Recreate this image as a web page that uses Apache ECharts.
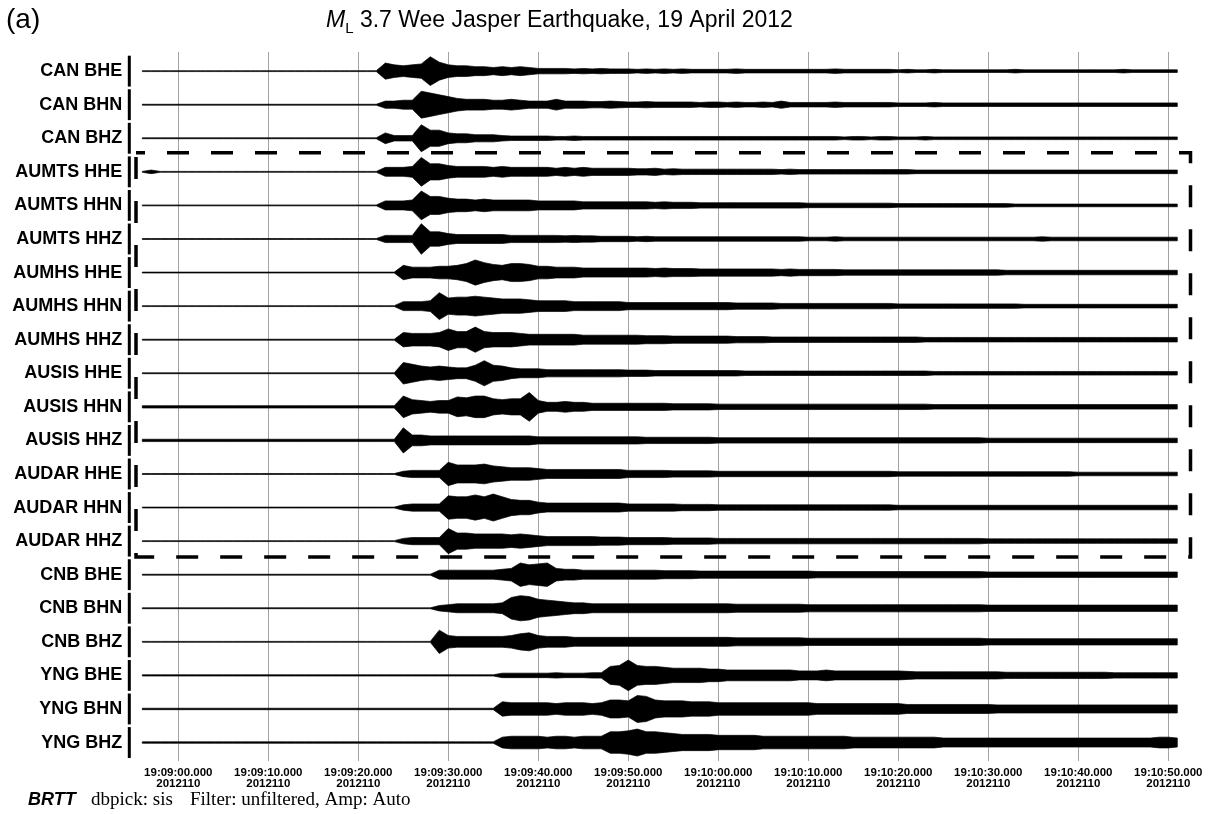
<!DOCTYPE html>
<html>
<head>
<meta charset="utf-8">
<script src="https://cdn.jsdelivr.net/npm/echarts@6/dist/echarts.min.js"></script>
<style>
  html, body { margin: 0; padding: 0; background: #fff; }
  #chart { width: 1210px; height: 814px; }
</style>
</head>
<body>
<div id="chart"></div>
<script>
// station / channel of every trace, top to bottom
const stations = [
  'CAN BHE', 'CAN BHN', 'CAN BHZ',
  'AUMTS HHE', 'AUMTS HHN', 'AUMTS HHZ',
  'AUMHS HHE', 'AUMHS HHN', 'AUMHS HHZ',
  'AUSIS HHE', 'AUSIS HHN', 'AUSIS HHZ',
  'AUDAR HHE', 'AUDAR HHN', 'AUDAR HHZ',
  'CNB BHE', 'CNB BHN', 'CNB BHZ',
  'YNG BHE', 'YNG BHN', 'YNG BHZ'
];

// time ticks, seconds after 19:09:00
const tickSecs = [0, 10, 20, 30, 40, 50, 60, 70, 80, 90, 100, 110];
const tickTimes = [
  '19:09:00.000', '19:09:10.000', '19:09:20.000', '19:09:30.000',
  '19:09:40.000', '19:09:50.000', '19:10:00.000', '19:10:10.000',
  '19:10:20.000', '19:10:30.000', '19:10:40.000', '19:10:50.000'
];
const julianDay = '2012110';

// traces inside the dashed box (first, last)
const boxedTraces = [3, 14];

// envelope half-amplitude per second, first sample at 19:08:56 (t = -4 s)
const sampleStart = -4;

const canBHE = [.5,.5,.5,.5,
  .5,.5,.5,.5,.5,.5,.5,.5,.5,.5,
  .5,.5,.5,.5,.5,.5,.5,.5,.5,.5,
  .5,.5,.5,9,7,6,7,8,16,10,
  7,6,6,5,5,4,5,4,5,4,
  3,3,3,3,2.5,3,2.5,3,2.5,2.5,
  2.5,2,2.5,2,2.5,2,2.5,2,2,2,
  2,2,2.5,2,2,2,2,2,2,2,
  2,2,2,2.5,2,2,2,2,2,2,
  1.5,2,1.5,1.5,2,1.5,1.5,1.5,1.5,1.5,
  1.5,1.5,1.5,2,1.5,1.5,1.5,1.5,1.5,1.5,
  1.5,1.5,1.5,1.5,1.5,2,1.5,1.5,1.5,1.5,
  1.5,1.5];
const canBHN = [.5,.5,.5,.5,
  .5,.5,.5,.5,.5,.5,.5,.5,.5,.5,
  .5,.5,.5,.5,.5,.5,.5,.5,.5,.5,
  .5,.5,.5,4,4,5,5,15,13,11,
  9,7,6,6,6,5,5,6,5,4,
  4,4,6,4,4,4,3.5,3.5,4,3.5,
  3,3,3.5,3,3,3,3,3,2.5,3,
  3,2.5,3,2.5,2.5,3,2.5,4,2.5,2.5,
  2.5,2.5,2.5,3,2.5,2.5,2.5,2.5,2.5,2.5,
  2,2,2,2,2.5,2,2,2,2,2,
  2,2,2,2,2,2,2,2,2,2,
  2,2,2,2,2,2,2,2,2,2,
  2,2];
const canBHZ = [.5,.5,.5,.5,
  .5,.5,.5,.5,.5,.5,.5,.5,.5,.5,
  .5,.5,.5,.5,.5,.5,.5,.5,.5,.5,
  .5,.5,.5,6,3,3,3,15,9,9,
  6,5,5,4,4,4,3,2.5,2.5,2.5,
  2.5,2.5,2,2,2.5,2,2,2,2,2,
  2,2,2,2,2,2,2,2,2,2,
  2,2,2,2,2,2,2,2,2,2,
  2,2,2,2,1.5,2,2,1.5,2,2,
  1.5,1.5,1.5,2,1.5,1.5,1.5,1.5,1.5,1.5,
  1.5,1.5,1.5,1.5,1.5,1.5,1.5,1.5,1.5,1.5,
  1.5,1.5,1.5,1.5,1.5,1.5,1.5,1.5,1.5,1.5,
  1.5,1.5];
const aumtsHHE = [.5,2,.5,.5,
  .5,.5,.5,.5,.5,.5,.5,.5,.5,.5,
  .5,.5,.5,.5,.5,.5,.5,.5,.5,.5,
  .5,.5,.5,5,5,5,6,16,9,9,
  7,6,6,6,6,5,6,5,5,5,
  5,5,4,5,4,5,4,4,4,4,
  4,3.5,3.5,4,3,3.5,3,3,3,3,
  3,3,3,3,3,3,3,2.5,3,2.5,
  2.5,2.5,2.5,2.5,2.5,2.5,2.5,2.5,2.5,2.5,
  2.5,2.5,2,2,2,2,2,2,2,2,
  2,2,2,2,2,2,2,2,2,2,
  2,2,2,2,2,2,2,2,2,2,
  2,2];
const aumtsHHN = [.5,.5,.5,.5,
  .5,.5,.5,.5,.5,.5,.5,.5,.5,.5,
  .5,.5,.5,.5,.5,.5,.5,.5,.5,.5,
  .5,.5,.5,5,5,5,6,16,10,10,
  8,7,7,6,7,6,6,6,6,6,
  5,5,5,5,5,4,4,4,4,4,
  4,4,4,3.5,4,3.5,3.5,3.5,3,3,
  3,3,3,3,3,3,3,3,3,3,
  2.5,2.5,2.5,2.5,2.5,2.5,2.5,2.5,2.5,2.5,
  2,2,2,2,2,2,2,2,2,2,
  2,2,2,1.5,1.5,1.5,1.5,1.5,1.5,1.5,
  1.5,1.5,1.5,1.5,1.5,1.5,1.5,1.5,1.5,1.5,
  1.5,1.5];
const aumtsHHZ = [.5,.5,.5,.5,
  .5,.5,.5,.5,.5,.5,.5,.5,.5,.5,
  .5,.5,.5,.5,.5,.5,.5,.5,.5,.5,
  .5,.5,.5,4,4,4,4,17,8,8,
  6,5,5,5,5,5,5,4,4,4,
  4,4,4,3.5,4,3.5,3.5,3,3,3,
  3,2.5,3,2.5,2.5,2.5,2.5,2.5,2.5,2.5,
  2.5,2.5,2.5,2.5,2.5,2.5,2.5,2.5,2.5,2.5,
  2,2,2,2.5,2,2,2,2,2,2,
  2,2,2,2,2,2,2,2,2,2,
  2,2,2,2,2,2,2.5,2,2,2,
  2,2,2,2,2,2,2,2,2,2,
  2,2];
const aumhsHHE = [.5,.5,.5,.5,
  .5,.5,.5,.5,.5,.5,.5,.5,.5,.5,
  .5,.5,.5,.5,.5,.5,.5,.5,.5,.5,
  .5,.5,.5,.5,.5,8,6,6,6,7,
  7,8,10,14,11,9,8,10,10,9,
  7,7,6,6,6,5,5,5,5,5,
  5,5,5,4.5,5,4.5,4.5,4.5,4,4,
  4,4,4,4,4,4,4,3.5,4,3.5,
  3.5,3.5,3.5,3.5,3,3,3,3,3,3,
  3,3,3,3,3,3,3,3,3,3,
  3,3,2.5,2.5,2.5,2.5,2.5,2.5,2.5,2.5,
  2.5,2.5,2.5,2.5,2.5,2.5,2.5,2.5,2.5,2.5,
  2.5,2.5];
const aumhsHHN = [.5,.5,.5,.5,
  .5,.5,.5,.5,.5,.5,.5,.5,.5,.5,
  .5,.5,.5,.5,.5,.5,.5,.5,.5,.5,
  .5,.5,.5,.5,.5,5,5,5,6,15,
  9,10,10,11,10,9,8,8,8,7,
  6,6,6,6,5,5,5,5,5,5,
  4,4,4,4,4,4,4,4,4,4,
  4,4,3.5,3.5,3.5,3.5,3.5,3,3,3,
  3,3,3,3,3,3,3,3,3,3,
  2.5,2.5,2.5,2.5,2.5,2.5,2.5,2.5,2.5,2.5,
  2.5,2.5,2.5,2.5,2,2,2,2,2,2,
  2,2,2,2,2,2,2,2,2,2,
  2,2];
const aumhsHHZ = [.5,.5,.5,.5,
  .5,.5,.5,.5,.5,.5,.5,.5,.5,.5,
  .5,.5,.5,.5,.5,.5,.5,.5,.5,.5,
  .5,.5,.5,.5,.5,8,7,7,7,8,
  12,9,9,14,9,8,8,8,7,6,
  6,6,6,6,6,5,5,5,5,5,
  5,5,4.5,4.5,4.5,4,4,4,4,4,
  4,4,3.5,3.5,3.5,3.5,3,3,3,3,
  3,3,3,3,3,3,3,3,3,3,
  3,3,3,2.5,2.5,2.5,2.5,2.5,2.5,2.5,
  2.5,2.5,2.5,2.5,2.5,2.5,2.5,2.5,2.5,2.5,
  2.5,2.5,2.5,2.5,2.5,2.5,2.5,2.5,2.5,2.5,
  2.5,2.5];
const ausisHHE = [.5,.5,.5,.5,
  .5,.5,.5,.5,.5,.5,.5,.5,.5,.5,
  .5,.5,.5,.5,.5,.5,.5,.5,.5,.5,
  .5,.5,.5,.5,.5,12,10,8,7,8,
  7,6,6,9,14,9,8,6,5,5,
  5,4,4,4,4,4,4,4,4,4,
  3.5,3.5,3.5,3,3,3,3,3,3,3,
  3,3,3,2.5,2.5,2.5,2.5,2.5,2.5,2.5,
  2.5,2.5,2.5,2.5,2.5,2.5,2.5,2.5,2.5,2.5,
  2.5,2.5,2.5,2.5,2,2,2,2,2,2,
  2,2,2,2,2,2,2,2,2,2,
  2,2,2,2,2,2,2,2,2,2,
  2,2];
const ausisHHN = [1.3,1.3,1.3,1.3,
  1.3,1.3,1.3,1.3,1.3,1.3,1.3,1.3,1.3,1.3,
  1.3,1.3,1.3,1.3,1.3,1.3,1.3,1.3,1.3,1.3,
  1.3,1.3,1.3,1.3,1.3,12,8,7,6,7,
  7,11,10,12,12,9,8,9,9,16,
  7,5,5,6,5,5,4,4,4,4,
  4,4,4,4,4,3.5,3.5,3.5,3.5,3.5,
  3,3,3,3,3,3,3,3,3,3,
  3,3,3,3,3,3,3,3,3,3,
  3,3,3,3,2.5,2.5,2.5,2.5,2.5,2.5,
  2.5,2.5,2.5,2.5,2.5,2.5,2.5,2.5,2.5,2.5,
  2.5,2.5,2.5,2.5,2.5,2.5,2.5,2.5,2.5,2.5,
  2.5,2.5];
const ausisHHZ = [1.3,1.3,1.3,1.3,
  1.3,1.3,1.3,1.3,1.3,1.3,1.3,1.3,1.3,1.3,
  1.3,1.3,1.3,1.3,1.3,1.3,1.3,1.3,1.3,1.3,
  1.3,1.3,1.3,1.3,1.3,14,6,6,5,5,
  5,5,5,5,5,5,5,5,5,5,
  4,4,4,4,4,4,4,4,4,4,
  4,4,3.5,3.5,3.5,3.5,3.5,3.5,3.5,3.5,
  3,3,3,3,3,3,3,3,3,3,
  3,3,3,3,3,3,3,3,3,3,
  3,3,3,3,3,3,3,3,3,3,
  2.5,2.5,2.5,2.5,2.5,2.5,2.5,2.5,2.5,2.5,
  2.5,2.5,2.5,2.5,2.5,2.5,2.5,2.5,2.5,2.5,
  2.5,2.5];
const audarHHE = [.5,.5,.5,.5,
  .5,.5,.5,.5,.5,.5,.5,.5,.5,.5,
  .5,.5,.5,.5,.5,.5,.5,.5,.5,.5,
  .5,.5,.5,.5,.5,3,4,4,4,4,
  13,10,10,10,11,9,8,7,7,7,
  6,5,5,5,5,5,5,5,5,5,
  4,4,4,4,4,3.5,3.5,3.5,3.5,3.5,
  3,3,3,3,3,3,3,3,3,3,
  3,3,3,3,3,3,3,3,3,3,
  2.5,2.5,2.5,2.5,2.5,2.5,2.5,2.5,2.5,2.5,
  2.5,2.5,2.5,2.5,2.5,2.5,2.5,2.5,2.5,2.5,
  2,2,2,2,2,2,2,2,2,2,
  2,2];
const audarHHN = [.5,.5,.5,.5,
  .5,.5,.5,.5,.5,.5,.5,.5,.5,.5,
  .5,.5,.5,.5,.5,.5,.5,.5,.5,.5,
  .5,.5,.5,.5,.5,3,4,4,4,4,
  13,12,12,14,12,15,12,9,8,8,
  6,5,5,5,5,5,5,5,5,5,
  4,4,4,4,4,4,3.5,3.5,3.5,3.5,
  3,3,3,3,3,3,3,3,3,3,
  3,3,3,3,3,3,3,3,3,3,
  2.5,2.5,2.5,2.5,2.5,2.5,2.5,2.5,2.5,2.5,
  2.5,2.5,2.5,2.5,2.5,2.5,2.5,2.5,2.5,2.5,
  2.5,2.5,2.5,2.5,2.5,2.5,2.5,2.5,2.5,2.5,
  2.5,2.5];
const audarHHZ = [.5,.5,.5,.5,
  .5,.5,.5,.5,.5,.5,.5,.5,.5,.5,
  .5,.5,.5,.5,.5,.5,.5,.5,.5,.5,
  .5,.5,.5,.5,.5,3,4,4,4,4,
  14,9,9,8,8,8,8,7,8,7,
  6,5,5,5,5,5,5,4.5,4.5,4.5,
  4,4,4,4,4,3.5,3.5,3.5,3.5,3.5,
  3,3,3,3,3,3,3,3,3,3,
  3,3,3,3,3,3,3,3,3,3,
  3,3,3,3,3,3,3,3,3,3,
  2.5,2.5,2.5,2.5,2.5,2.5,2.5,2.5,2.5,2.5,
  2.5,2.5,2.5,2.5,2.5,2.5,2.5,2.5,2.5,2.5,
  2.5,2.5];
const cnbBHE = [.5,.5,.5,.5,
  .5,.5,.5,.5,.5,.5,.5,.5,.5,.5,
  .5,.5,.5,.5,.5,.5,.5,.5,.5,.5,
  .5,.5,.5,.5,.5,.5,.5,.5,.5,5,
  5,5,5,5,5,5,6,7,13,11,
  12,13,7,6,6,5,5,5,5,5,
  5,5,5,5,4.5,4.5,4.5,4.5,4,4,
  4,4,4,4,4,4,4,4,4,4,
  4,3.5,3.5,3.5,3.5,3.5,3.5,3.5,3.5,3.5,
  3.5,3.5,3.5,3.5,3.5,3.5,3.5,3.5,3.5,3.5,
  3,3,3,3,3,3,3,3,3,3,
  3,3,3,3,3,3,3,3,3,3,
  3,3];
const cnbBHN = [.5,.5,.5,.5,
  .5,.5,.5,.5,.5,.5,.5,.5,.5,.5,
  .5,.5,.5,.5,.5,.5,.5,.5,.5,.5,
  .5,.5,.5,.5,.5,.5,.5,.5,.5,3,
  4,5,5,5,5,5,6,12,14,13,
  10,9,8,7,6,6,5,5,5,5,
  5,5,5,5,5,5,5,5,5,5,
  5,5,4.5,4.5,4.5,4.5,4.5,4.5,4.5,4.5,
  4,4,4,4,4,4,4,4,4,4,
  4,4,4,4,4,4,4,4,4,4,
  3.5,3.5,3.5,3.5,3.5,3.5,3.5,3.5,3.5,3.5,
  3.5,3.5,3.5,3.5,3.5,3.5,3.5,3.5,3.5,3.5,
  3.5,3.5];
const cnbBHZ = [.5,.5,.5,.5,
  .5,.5,.5,.5,.5,.5,.5,.5,.5,.5,
  .5,.5,.5,.5,.5,.5,.5,.5,.5,.5,
  .5,.5,.5,.5,.5,.5,.5,.5,.5,13,
  7,6,6,6,6,6,6,7,9,10,
  7,6,6,6,5,5,5,5,5,5,
  5,5,5,5,5,5,5,5,5,5,
  5,5,4.5,4.5,4.5,4.5,4.5,4.5,4.5,4.5,
  4,4,4,4,4,4,4,4,4,4,
  4,4,4,4,4,4,4,4,4,4,
  3.5,3.5,3.5,3.5,3.5,3.5,3.5,3.5,3.5,3.5,
  3.5,3.5,3.5,3.5,3.5,3.5,3.5,3.5,3.5,3.5,
  3.5,3.5];
const yngBHE = [.7,.7,.7,.7,
  .7,.7,.7,.7,.7,.7,.7,.7,.7,.7,
  .7,.7,.7,.7,.7,.7,.7,.7,.7,.7,
  .7,.7,.7,.7,.7,.7,.7,.7,.7,.7,
  .7,.7,.7,.7,.7,.7,2.5,2.5,2.5,2.5,
  2.5,2.5,3,2.5,2.5,2.5,3,3,10,11,
  17,11,10,10,9,8,8,8,8,7,
  7,6,6,6,6,6,6,6,6,5,
  5,5,6,5,5,5,5,5,5,5,
  5,4.5,4,4,4,4,4,4,4,4,
  4,4,3.5,3.5,3.5,3.5,3.5,3.5,3.5,3.5,
  3.5,3.5,3.5,3.5,3,3,3,3,3,3,
  3,3];
const yngBHN = [.8,.8,.8,.8,
  .8,.8,.8,.8,.8,.8,.8,.8,.8,.8,
  .8,.8,.8,.8,.8,.8,.8,.8,.8,.8,
  .8,.8,.8,.8,.8,.8,.8,.8,.8,.8,
  .8,.8,.8,.8,.8,.8,8,7,7,7,
  7,7,6,7,7,7,6,7,10,10,
  9,15,14,10,9,9,9,8,8,8,
  7,7,7,7,7,7,7,7,7,7,
  7,6,6,6,6,6,6,6,6,6,
  6,5,5,5,5,5,5,5,5,5,
  5,4.5,4.5,4.5,4.5,4.5,4.5,4.5,4.5,4.5,
  4.5,4.5,4.5,4.5,4.5,4.5,4.5,4.5,4.5,4.5,
  4.5,4.5];
const yngBHZ = [.8,.8,.8,.8,
  .8,.8,.8,.8,.8,.8,.8,.8,.8,.8,
  .8,.8,.8,.8,.8,.8,.8,.8,.8,.8,
  .8,.8,.8,.8,.8,.8,.8,.8,.8,.8,
  .8,.8,.8,.8,.8,.8,6,7,7,7,
  7,6,7,7,6,7,7,7,12,12,
  13,15,12,12,11,10,9,9,9,9,
  8,8,8,8,8,7,7,7,7,7,
  7,7,7,7,7,6,6,6,6,6,
  6,6,6,6,6,5,5,5,5,5,
  5,5,5,5,5,5,5,5,5,5,
  5,5,5,5,5,5,5,5,5,6,
  6,5];

const traces = [
  canBHE, canBHN, canBHZ,
  aumtsHHE, aumtsHHN, aumtsHHZ,
  aumhsHHE, aumhsHHN, aumhsHHZ,
  ausisHHE, ausisHHN, ausisHHZ,
  audarHHE, audarHHN, audarHHZ,
  cnbBHE, cnbBHN, cnbBHZ,
  yngBHE, yngBHN, yngBHZ
];

// display gain: envelope units -> trace spacing
const gain = 0.9 / 33.6;
const xMin = -4, xMax = 112;
const FONT = '"Liberation Sans", Arial, Helvetica, sans-serif';
const SERIF = '"Liberation Serif", "Times New Roman", serif';

const chart = echarts.init(document.getElementById('chart'), null, { renderer: 'canvas' });

function renderTrace(params, api) {
  const idx = api.value(1);
  const a = traces[idx];
  const upper = [], lower = [];
  for (let i = 0; i < a.length; i++) {
    const t = sampleStart + i;
    upper.push(api.coord([t, idx - a[i] * gain]));
    lower.push(api.coord([t, idx + a[i] * gain]));
  }
  return {
    type: 'polygon',
    shape: { points: upper.concat(lower.reverse()) },
    style: { fill: '#000', stroke: '#000', lineWidth: 0.7 }
  };
}

function renderBar(params, api) {
  const idx = api.value(1);
  const p0 = api.coord([xMin, idx - 0.46]);
  const p1 = api.coord([xMin, idx + 0.46]);
  return {
    type: 'rect',
    shape: { x: p0[0] - 14.5, y: p0[1], width: 3, height: p1[1] - p0[1] },
    style: { fill: '#000' }
  };
}

function renderBox(params, api) {
  const tl = api.coord([xMin, boxedTraces[0] - 0.57]);
  const br = api.coord([xMax, boxedTraces[1] + 0.47]);
  const x0 = tl[0] - 6.3, x1 = br[0] + 4.2;
  return {
    type: 'rect',
    shape: { x: x0, y: tl[1], width: x1 - x0, height: br[1] - tl[1] },
    style: { fill: 'none', stroke: '#000', lineWidth: 3.5, lineDash: [22, 22], lineDashOffset: 13 }
  };
}

const traceData = stations.map((s, i) => [sampleStart, i]);

const option = {
  animation: false,
  backgroundColor: '#fff',
  textStyle: { fontFamily: FONT },
  title: {
    left: 321,
    top: 1,
    text: '{i|M}{s|L}{n| 3.7 Wee Jasper Earthquake, 19 April 2012}',
    textStyle: {
      fontWeight: 'normal',
      rich: {
        i: { fontFamily: FONT, fontSize: 23, fontStyle: 'italic', fontWeight: 'normal', color: '#000', lineHeight: 30 },
        s: { fontFamily: FONT, fontSize: 15, fontWeight: 'normal', color: '#000', lineHeight: 16, verticalAlign: 'bottom' },
        n: { fontFamily: FONT, fontSize: 23, fontWeight: 'normal', color: '#000', lineHeight: 30 }
      }
    }
  },
  graphic: [
    { type: 'text', x: 6, y: 20, style: { text: '(a)', fontFamily: FONT, fontSize: 28, fill: '#000', verticalAlign: 'middle' } },
    { type: 'text', x: 28, y: 800, style: { text: 'BRTT', fontFamily: FONT, fontSize: 18, fontWeight: 'bold', fontStyle: 'italic', fill: '#000', verticalAlign: 'middle' } },
    { type: 'text', x: 91, y: 800, style: { text: 'dbpick: sis', fontFamily: SERIF, fontSize: 19, fill: '#000', verticalAlign: 'middle' } },
    { type: 'text', x: 190, y: 800, style: { text: 'Filter: unfiltered, Amp: Auto', fontFamily: SERIF, fontSize: 19, fill: '#000', verticalAlign: 'middle' } }
  ],
  grid: { left: 142.3, right: 23.7, top: 52, bottom: 53, containLabel: false, outerBoundsMode: 'none' },
  xAxis: {
    type: 'value',
    min: xMin,
    max: xMax,
    axisLine: { show: false },
    axisTick: { show: false, customValues: tickSecs },
    splitLine: { show: true, lineStyle: { color: '#a3a3a3', width: 1 } },
    axisLabel: {
      customValues: tickSecs,
      margin: 6,
      color: '#000',
      fontFamily: FONT,
      fontSize: 11.5,
      fontWeight: 'bold',
      lineHeight: 11,
      formatter: v => tickTimes[tickSecs.indexOf(v)] + '\n' + julianDay
    }
  },
  yAxis: {
    type: 'value',
    inverse: true,
    min: -0.57,
    max: 20.55,
    axisLine: { show: false },
    axisTick: { show: false },
    splitLine: { show: false },
    axisLabel: {
      customValues: stations.map((s, i) => i),
      margin: 20,
      color: '#000',
      fontFamily: FONT,
      fontSize: 18,
      fontWeight: 'bold',
      formatter: v => stations[v]
    }
  },
  series: [
    { type: 'custom', name: 'bars', renderItem: renderBar, data: traceData, z: 2, silent: true },
    { type: 'custom', name: 'traces', renderItem: renderTrace, data: traceData, z: 3, silent: true },
    { type: 'custom', name: 'box', renderItem: renderBox, data: [[sampleStart, 0]], z: 4, silent: true }
  ]
};

chart.setOption(option);
</script>
</body>
</html>
